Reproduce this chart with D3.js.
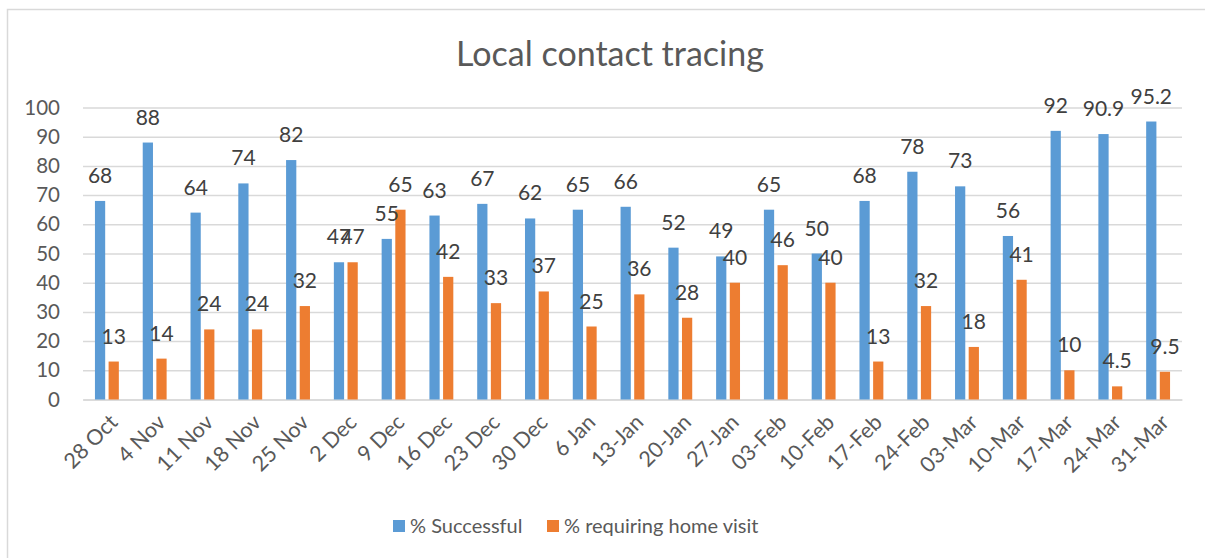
<!DOCTYPE html>
<html lang="en">
<head>
<meta charset="UTF-8">
<title>Local contact tracing</title>
<script src="https://cdn.jsdelivr.net/npm/d3@7"></script>
<style>
    body { margin: 0; background: #fff; }
    svg text { font-family: Lato, "Open Sans", sans-serif; }
</style>
</head>
<body>
<script>
    // data
    const weeks = ["28 Oct", "4 Nov", "11 Nov", "18 Nov", "25 Nov", "2 Dec", "9 Dec", "16 Dec", "23 Dec", "30 Dec",
        "6 Jan", "13-Jan", "20-Jan", "27-Jan", "03-Feb", "10-Feb", "17-Feb", "24-Feb", "03-Mar", "10-Mar",
        "17-Mar", "24-Mar", "31-Mar"];
    const successful = [68, 88, 64, 74, 82, 47, 55, 63, 67, 62, 65, 66, 52, 49, 65, 50, 68, 78, 73, 56, 92, 90.9, 95.2];
    const homeVisit = [13, 14, 24, 24, 32, 47, 65, 42, 33, 37, 25, 36, 28, 40, 46, 40, 13, 32, 18, 41, 10, 4.5, 9.5];
    const seriesNames = ["% Successful", "% requiring home visit"];
    const colors = ["#5B9BD5", "#ED7D31"];
    const yTicks = [0, 10, 20, 30, 40, 50, 60, 70, 80, 90, 100];

    const width = 1205;
    const height = 558;
    const marginLeft = 83;
    const marginRight = 23;
    const marginTop = 107.5;
    const plotBottom = 399.5;

    const svg = d3.select("body")
        .append("svg")
        .attr("width", width)
        .attr("height", height);

    // chart border
    svg.append("rect")
        .attr("x", 7.5)
        .attr("y", 9.5)
        .attr("width", width + 20)
        .attr("height", height + 20)
        .attr("fill", "none")
        .attr("stroke", "#d9d9d9")
        .attr("stroke-width", 1.5);

    svg.append("text")
        .attr("x", 610)
        .attr("y", 66)
        .attr("text-anchor", "middle")
        .attr("font-size", 34)
        .attr("fill", "#595959")
        .text("Local contact tracing");

    const x0 = d3.scaleBand()
        .domain(weeks)
        .range([marginLeft, width - marginRight])
        .paddingInner(0.5)
        .paddingOuter(0.25);

    const x1 = d3.scaleBand()
        .domain([0, 1])
        .range([0, x0.bandwidth()])
        .paddingInner(0.25);

    const y = d3.scaleLinear()
        .domain([0, 100])
        .range([plotBottom, marginTop]);

    // gridlines + y labels
    const yAxis = svg.append("g")
        .attr("transform", `translate(${marginLeft},0)`)
        .call(d3.axisLeft(y).tickValues(yTicks).tickSize(-(width - marginRight - marginLeft)).tickPadding(23));
    yAxis.select(".domain").remove();
    yAxis.selectAll(".tick line").attr("stroke", "#d9d9d9").attr("stroke-width", 1.5);
    yAxis.selectAll(".tick text")
        .attr("font-size", 20.5)
        .attr("fill", "#595959");

    // x axis
    const xAxis = svg.append("g")
        .attr("transform", `translate(0,${plotBottom})`)
        .call(d3.axisBottom(x0).tickSize(0));
    xAxis.select(".domain").attr("stroke", "#d9d9d9").attr("stroke-width", 1.5);
    xAxis.selectAll(".tick text")
        .attr("font-size", 21.5)
        .attr("fill", "#595959")
        .attr("text-anchor", "end")
        .attr("dy", null)
        .attr("transform", "translate(10,22) rotate(-45)");

    const rows = weeks.map((w, i) => ({ week: w, values: [successful[i], homeVisit[i]] }));

    const groups = svg.append("g")
        .selectAll("g")
        .data(rows)
        .join("g")
        .attr("transform", d => `translate(${x0(d.week)},0)`);

    groups.selectAll("rect")
        .data(d => d.values.map((v, s) => ({ v, s })))
        .join("rect")
        .attr("x", d => x1(d.s))
        .attr("y", d => y(d.v))
        .attr("width", x1.bandwidth())
        .attr("height", d => y(0) - y(d.v))
        .attr("fill", d => colors[d.s]);

    groups.selectAll("text")
        .data(d => d.values.map((v, s) => ({ v, s })))
        .join("text")
        .attr("x", d => x1(d.s) + x1.bandwidth() / 2)
        .attr("y", d => y(d.v) - 18)
        .attr("text-anchor", "middle")
        .attr("font-size", 21)
        .attr("fill", "#404040")
        .text(d => d.v);

    // legend
    const legendX = [393, 547];
    const legend = svg.append("g")
        .selectAll("g")
        .data(seriesNames)
        .join("g")
        .attr("transform", (d, i) => `translate(${legendX[i]},520)`);
    legend.append("rect")
        .attr("width", 12)
        .attr("height", 12)
        .attr("fill", (d, i) => colors[i]);
    legend.append("text")
        .attr("x", 17)
        .attr("y", 12.5)
        .attr("font-size", 20)
        .attr("fill", "#595959")
        .text(d => d);
</script>
</body>
</html>
